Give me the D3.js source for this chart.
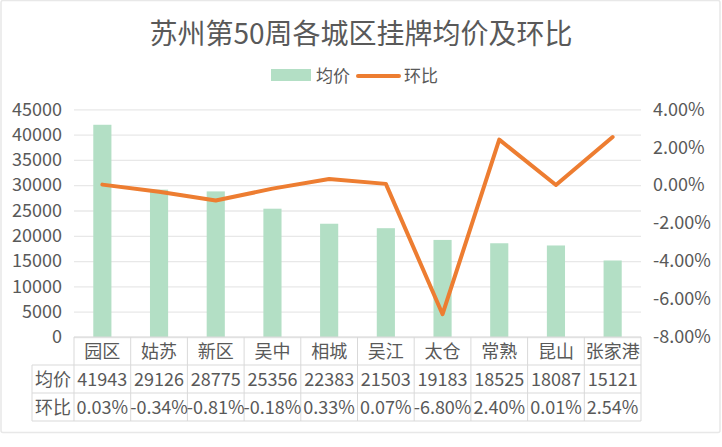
<!DOCTYPE html>
<html><head><meta charset="utf-8">
<script src="https://cdn.jsdelivr.net/npm/d3@7"></script>
<style>body{margin:0;background:#fff}svg{display:block}text{font-family:"Noto Sans CJK SC","Noto Sans",sans-serif;fill:#595959}</style>
</head><body><svg id="c" width="722" height="447"></svg>
<script>
const categories = ["园区","姑苏","新区","吴中","相城","吴江","太仓","常熟","昆山","张家港"];
const prices = [41943,29126,28775,25356,22383,21503,19183,18525,18087,15121];
const changes = [0.03,-0.34,-0.81,-0.18,0.33,0.07,-6.80,2.40,0.01,2.54];
const leftTicks = [0,5000,10000,15000,20000,25000,30000,35000,40000,45000];
const rightTicks = [-8,-6,-4,-2,0,2,4];
const title = "苏州第50周各城区挂牌均价及环比";
const seriesNames = ["均价","环比"];

const svg = d3.select("#c");
const W=722,H=447;
svg.append("rect").attr("x",1).attr("y",0.5).attr("width",719).attr("height",432).attr("rx",2)
  .attr("fill","#fff").attr("stroke","#e8e8e8").attr("stroke-width",1.5);
const L=74,R=641,T=109.3,B=337;
const x = d3.scaleBand().domain(categories).range([L,R]).paddingInner(0.68).paddingOuter(0.34);
const xc = d3.scaleBand().domain(categories).range([L,R]);
const y = d3.scaleLinear().domain([0,45000]).range([B,T]);
const y2 = d3.scaleLinear().domain([-8,4]).range([B,T]);
const green="#b3dfc5", orange="#ed7d31", grid="#e8e8e8", tgrid="#d9d9d9";

svg.append("text").attr("x",361).attr("y",44).attr("text-anchor","middle").attr("font-size",28).attr("fill","#6a6a6a").text(title);

// legend
const lg = svg.append("g");
lg.append("rect").attr("x",271).attr("y",69).attr("width",40).attr("height",12).attr("fill",green);
lg.append("text").attr("x",316).attr("y",82).attr("font-size",17).text(seriesNames[0]);
lg.append("line").attr("x1",358).attr("x2",399).attr("y1",76).attr("y2",76).attr("stroke",orange).attr("stroke-width",4).attr("stroke-linecap","round");
lg.append("text").attr("x",404).attr("y",82).attr("font-size",17).text(seriesNames[1]);

// gridlines
const ga = svg.append("g").attr("transform",`translate(${L},0)`)
  .call(d3.axisLeft(y).tickValues(leftTicks).tickSize(-(R-L)).tickFormat(""));
ga.select(".domain").remove();
ga.selectAll("line").attr("stroke",grid).attr("stroke-width",1.3);

// left axis labels
const la = svg.append("g").attr("transform",`translate(${L},0)`)
  .call(d3.axisLeft(y).tickValues(leftTicks).tickSize(0).tickPadding(12).tickFormat(d3.format("d")));
la.select(".domain").remove();
la.selectAll("text").attr("font-size",18).attr("fill","#595959").style("font-family",'"Noto Sans CJK SC",sans-serif');

// right axis labels
const ra = svg.append("g").attr("transform",`translate(${R},0)`)
  .call(d3.axisRight(y2).tickValues(rightTicks).tickSize(0).tickPadding(12).tickFormat(d=>d.toFixed(2)+"%"));
ra.select(".domain").remove();
ra.selectAll("text").attr("font-size",18).attr("fill","#595959").style("font-family",'"Noto Sans CJK SC",sans-serif');

// bars
svg.append("g").selectAll("rect").data(categories).join("rect")
  .attr("x",d=>x(d)).attr("width",x.bandwidth())
  .attr("y",(d,i)=>y(prices[i])).attr("height",(d,i)=>y(0)-y(prices[i]))
  .attr("fill",green);

// line
svg.append("path").datum(changes)
  .attr("d",d3.line().x((d,i)=>xc(categories[i])+xc.bandwidth()/2).y(d=>y2(d)))
  .attr("fill","none").attr("stroke",orange).attr("stroke-width",4).attr("stroke-linejoin","round").attr("stroke-linecap","round");

// data table
const rows=[337,365,393,421];
const tg = svg.append("g");
const cw = xc.bandwidth();
tg.append("line").attr("x1",L).attr("x2",R).attr("y1",rows[0]).attr("y2",rows[0]).attr("stroke",tgrid);
[1,2,3].forEach(k=>tg.append("line").attr("x1",32).attr("x2",R).attr("y1",rows[k]).attr("y2",rows[k]).attr("stroke",tgrid));
tg.append("line").attr("x1",32).attr("x2",32).attr("y1",rows[1]).attr("y2",rows[3]).attr("stroke",tgrid);
categories.forEach((c,i)=>{
  const xx = xc(c);
  tg.append("line").attr("x1",xx).attr("x2",xx).attr("y1",rows[0]).attr("y2",rows[3]).attr("stroke",tgrid);
});
tg.append("line").attr("x1",R).attr("x2",R).attr("y1",rows[0]).attr("y2",rows[3]).attr("stroke",tgrid);
const ts=18;
categories.forEach((c,i)=>{
  const cx = xc(c)+cw/2;
  tg.append("text").attr("x",cx).attr("y",rows[0]+21).attr("text-anchor","middle").attr("font-size",ts).text(c);
  tg.append("text").attr("x",cx).attr("y",rows[1]+21).attr("text-anchor","middle").attr("font-size",ts).text(prices[i]);
  tg.append("text").attr("x",cx).attr("y",rows[2]+21).attr("text-anchor","middle").attr("font-size",ts).text(changes[i].toFixed(2)+"%");
});
tg.append("text").attr("x",53).attr("y",rows[1]+21).attr("text-anchor","middle").attr("font-size",ts).text(seriesNames[0]);
tg.append("text").attr("x",53).attr("y",rows[2]+21).attr("text-anchor","middle").attr("font-size",ts).text(seriesNames[1]);
</script></body></html>
